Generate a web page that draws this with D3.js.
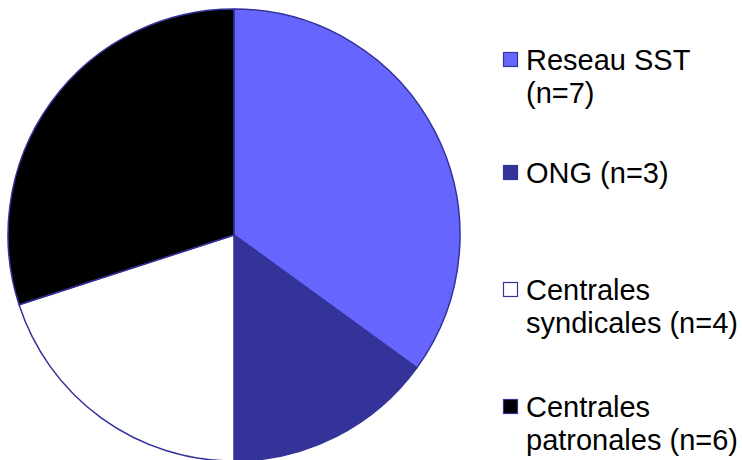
<!DOCTYPE html>
<html><head><meta charset="utf-8">
<script src="https://cdn.jsdelivr.net/npm/d3@7/dist/d3.min.js"></script>
<style>html,body{margin:0;padding:0;background:#fff;}svg{display:block;}</style>
</head><body>
<script>
const categories = ["Reseau SST", "ONG", "Centrales syndicales", "Centrales patronales"];
const values = [7, 3, 4, 6];
const legendLines = [["Reseau SST", "(n=7)"], ["ONG (n=3)"], ["Centrales", "syndicales (n=4)"], ["Centrales", "patronales (n=6)"]];
const colors = ["#6666FF", "#333399", "#FFFFFF", "#000000"];

const W = 742, H = 460;
const svg = d3.select("body").append("svg").attr("width", W).attr("height", H);
const cx = 234, cy = 235, R = 226;

const pie = d3.pie().sort(null).value(d => d)(values);
const arc = d3.arc().innerRadius(0).outerRadius(R);
const color = d3.scaleOrdinal().domain(categories).range(colors);

svg.append("g").attr("transform", `translate(${cx},${cy})`)
  .selectAll("path").data(pie).join("path")
  .attr("d", arc)
  .attr("fill", (d, i) => color(categories[i]))
  .attr("stroke", "#333399")
  .attr("stroke-width", 1.5)
  .attr("stroke-linejoin", "round");

const baselines = [70, 183, 300, 417];
const lineH = 32.5;
const lg = svg.append("g");
categories.forEach((c, i) => {
  const b = baselines[i];
  lg.append("rect").attr("x", 503.5).attr("y", b - 17.5).attr("width", 14).attr("height", 14)
    .attr("fill", color(c)).attr("stroke", "#333399").attr("stroke-width", 1.2);
  const t = lg.append("text").attr("x", 526).attr("y", b)
    .attr("font-family", "Liberation Sans, Arial, sans-serif").attr("font-size", 29).attr("fill", "#000");
  legendLines[i].forEach((ln, j) => {
    t.append("tspan").attr("x", 526).attr("y", b + j * lineH).text(ln);
  });
});
</script>
</body></html>
